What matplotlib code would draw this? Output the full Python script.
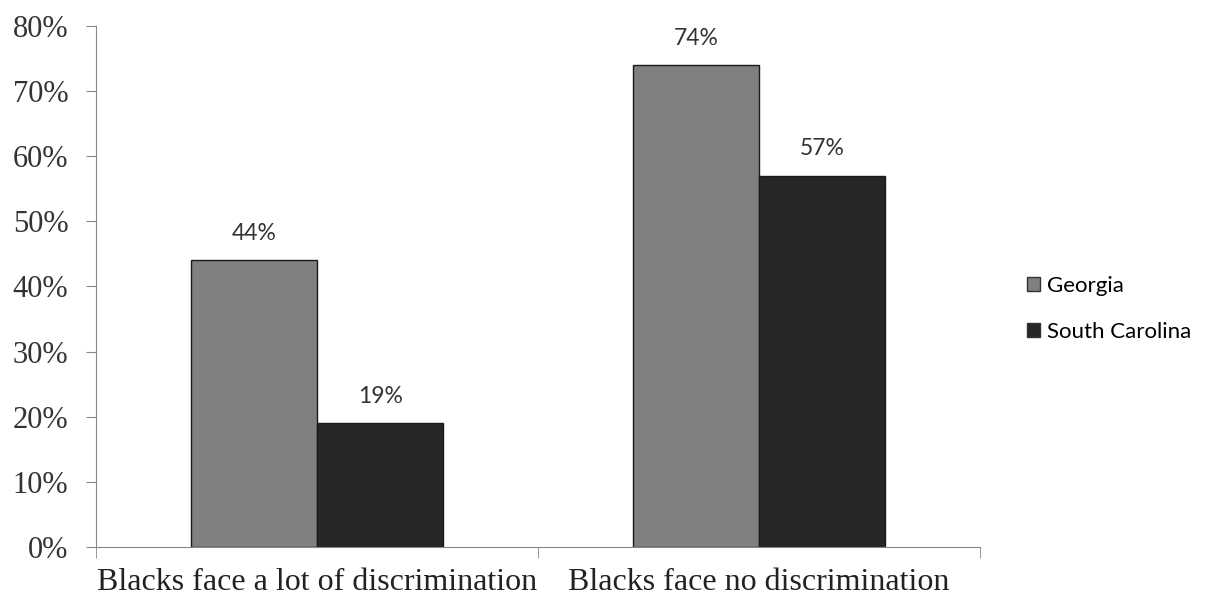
import numpy as np
import matplotlib.pyplot as plt
from matplotlib.patches import Patch

categories = ["Blacks face a lot of discrimination", "Blacks face no discrimination"]
georgia = [44, 74]
south_carolina = [19, 57]
series_names = ["Georgia", "South Carolina"]
colors = ["#808080", "#262626"]

fig = plt.figure(figsize=(12.05, 5.96), dpi=100)
ax = fig.add_axes([0.0797, 0.0822, 0.7336, 0.8742])

x = np.arange(len(categories)) + 0.5
w = 1 / 3.5
bars1 = ax.bar(x - w / 2, georgia, w, color=colors[0], edgecolor="#1a1a1a", linewidth=1)
bars2 = ax.bar(x + w / 2, south_carolina, w, color=colors[1], edgecolor="#1a1a1a", linewidth=1)

for bars in (bars1, bars2):
    for b in bars:
        ax.text(b.get_x() + b.get_width() / 2, b.get_height() + 2.5, f"{b.get_height():.0f}%",
                ha="center", va="bottom", fontsize=16.5, family="Lato", color="#333333")

ax.set_xlim(0, len(categories))
ax.set_ylim(0, 80)
ax.set_yticks(range(0, 81, 10))
ax.set_yticklabels([f"{v}%" for v in range(0, 81, 10)], family="Liberation Serif", fontsize=22, color="#333333")
ax.set_xticks(x)
ax.set_xticklabels(categories, family="Liberation Serif", fontsize=23, color="#222222")
ax.set_xticks(np.arange(len(categories) + 1), minor=True)
ax.tick_params(axis="x", which="major", length=0, pad=15)
ax.tick_params(axis="x", which="minor", length=8, color="#888888", direction="out")
ax.tick_params(axis="y", length=7, color="#888888", direction="out", pad=13)

for s in ("top", "right"):
    ax.spines[s].set_visible(False)
for s in ("left", "bottom"):
    ax.spines[s].set_color("#888888")

handles = [Patch(facecolor=c, edgecolor="#333333") for c in colors]
fig.legend(handles, series_names, loc="center left", bbox_to_anchor=(0.836, 0.482),
           frameon=False, prop={"family": "Lato", "size": 16}, labelspacing=1.15,
           handlelength=0.55, handleheight=0.6, handletextpad=0.35)

fig.savefig("out.png", dpi=100, facecolor="white")
